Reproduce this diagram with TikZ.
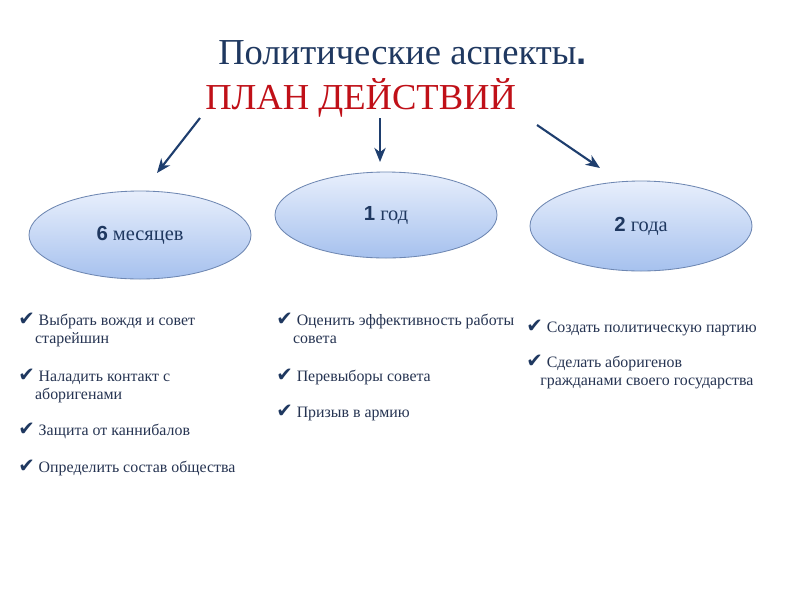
\documentclass[tikz,border=0pt]{standalone}
\usepackage{fontspec}
\setmainfont{Liberation Serif}
\setsansfont{Liberation Sans}
\newfontfamily\symfont{DejaVu Sans}
\usetikzlibrary{arrows.meta,positioning,shapes.geometric}
\definecolor{navy}{RGB}{31,56,96}
\definecolor{planred}{RGB}{192,16,24}
\definecolor{itemtxt}{RGB}{38,52,82}
\definecolor{arr}{RGB}{30,62,110}
\definecolor{ovtop}{RGB}{232,239,252}
\definecolor{ovbot}{RGB}{166,193,238}
\definecolor{ovline}{RGB}{110,135,178}
\newcommand{\chk}{{\color{navy}\symfont\fontsize{14}{12.8}\selectfont\char"2714}}

\begin{document}
\begin{tikzpicture}[x=0.025cm,y=-0.025cm,
  oval/.style={ellipse,draw=ovline,line width=0.6pt,top color=ovtop,bottom color=ovbot,
    minimum width=222*0.025cm,minimum height=88*0.025cm,inner sep=0,text=navy,
    font=\fontsize{14.5}{16}\selectfont},
  item/.style={anchor=north west,inner sep=0,align=left,text=itemtxt,
    font=\fontsize{11.3}{12.8}\selectfont},
  pt/.style={draw=arr,line width=1.5pt,-{Stealth[length=10pt,width=8pt,inset=3pt]}}]
 \useasboundingbox[fill=white] (0,0) rectangle (800,600);
 % title
 \node[text=navy,font=\fontsize{26}{30}\selectfont,anchor=base west,inner sep=0] (ttl) at (218,64)
   {Политические аспекты{\sffamily\bfseries .}};
 \node[text=planred,font=\fontsize{26}{30}\selectfont,anchor=base west,inner sep=0] (plan) at (205,109)
   {ПЛАН ДЕЙСТВИЙ};
 % ellipses
 \node[oval] (m6) at (140,235) {{\sffamily\bfseries 6} месяцев};
 \node[oval,minimum height=86*0.025cm] (y1) at (386,215) {{\sffamily\bfseries 1} год};
 \node[oval,minimum height=90*0.025cm] (y2) at (641,226) {{\sffamily\bfseries 2} года};
 % arrows
 \coordinate (a1s) at (200,118); \coordinate (a1e) at (157,173);
 \coordinate (a2s) at (380,118); \coordinate (a2e) at (380,162);
 \coordinate (a3s) at (537,125); \coordinate (a3e) at (600,168);
 \draw[pt] (a1s) -- (a1e);
 \draw[pt] (a2s) -- (a2e);
 \draw[pt] (a3s) -- (a3e);
 % 6 months
 \node[item] (l1) at (18,313) {\chk{} Выбрать вождя и совет\\\hspace*{12pt}старейшин};
 \node[item] (l2) at (18,369) {\chk{} Наладить контакт с\\\hspace*{12pt}аборигенами};
 \node[item] (l3) at (18,423) {\chk{} Защита от каннибалов};
 \node[item] (l4) at (18,460) {\chk{} Определить состав общества};
 % 1 year
 \node[item] (c1) at (276,313) {\chk{} Оценить эффективность работы\\\hspace*{12pt}совета};
 \node[item] (c2) at (276,369) {\chk{} Перевыборы совета};
 \node[item] (c3) at (276,405) {\chk{} Призыв в армию};
 % 2 years
 \node[item] (r1) at (526,320) {\chk{} Создать политическую партию};
 \node[item] (r2) at (526,355) {\chk{} Сделать аборигенов\\\hspace*{10pt}гражданами своего государства};
\end{tikzpicture}
\end{document}
